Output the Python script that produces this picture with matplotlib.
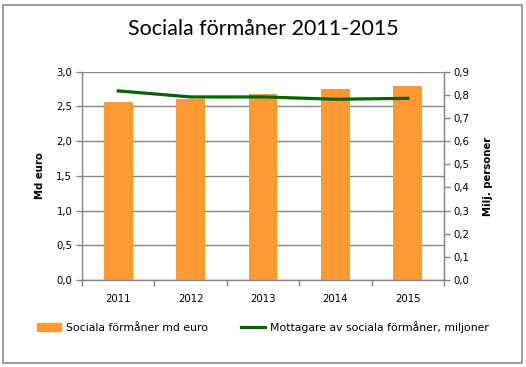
import matplotlib
matplotlib.use("Agg")
import matplotlib.pyplot as plt
from matplotlib.patches import Rectangle
from matplotlib.lines import Line2D
from matplotlib.ticker import FixedLocator, FuncFormatter

years = ["2011", "2012", "2013", "2014", "2015"]
benefits_bn_eur = [2.565, 2.60, 2.685, 2.75, 2.80]
recipients_mn = [0.817, 0.791, 0.791, 0.781, 0.785]
left_ticks = [0.0, 0.5, 1.0, 1.5, 2.0, 2.5, 3.0]
right_ticks = [0.0, 0.1, 0.2, 0.3, 0.4, 0.5, 0.6, 0.7, 0.8, 0.9]

W, H = 526, 367
fig = plt.figure(figsize=(W / 100, H / 100), dpi=100)
fig.patches.append(Rectangle((3 / W, 4 / H), 519 / W, 358 / H, transform=fig.transFigure,
                             fill=False, edgecolor="#8c8c8c", linewidth=1.2))

ax = fig.add_axes([82 / W, 87 / H, 362 / W, 208.3 / H])
ax.set_axisbelow(True)
x = list(range(len(years)))
orange = "#ff9933"
green = "#006600"
grey = "#868686"
ax.bar(x, benefits_bn_eur, width=0.4, color=orange, zorder=2)
ax.set_xlim(-0.5, len(years) - 0.5)
ax.set_ylim(0, 3.0)
ax.yaxis.set_major_locator(FixedLocator(left_ticks))
ax.yaxis.set_major_formatter(FuncFormatter(lambda v, p: f"{v:.1f}".replace(".", ",")))
ax.grid(axis="y", color=grey, linewidth=1.0, zorder=0)
ax.set_xticks(x)
ax.set_xticklabels(years)
ax.set_xticks([i + 0.5 for i in range(-1, len(years))], minor=True)
ax.tick_params(axis="x", which="major", length=0, pad=10, labelsize=7.3)
ax.tick_params(axis="x", which="minor", length=4, color=grey, width=1)
ax.tick_params(axis="y", length=4, color=grey, width=1, labelsize=7.3, pad=3)
ax.spines["top"].set_visible(False)
for s in ["left", "bottom", "right"]:
    ax.spines[s].set_color(grey)
    ax.spines[s].set_linewidth(1.0)
ax.set_ylabel("Md euro", fontsize=7.3, fontweight="bold")
ax.yaxis.set_label_coords(-0.102, 0.5)

ax2 = ax.twinx()
ax2.plot(x, recipients_mn, color=green, linewidth=2.3, zorder=3)
ax2.set_ylim(0, 0.9)
ax2.yaxis.set_major_locator(FixedLocator(right_ticks))
ax2.yaxis.set_major_formatter(FuncFormatter(lambda v, p: f"{v:.1f}".replace(".", ",")))
ax2.tick_params(axis="y", length=4, color=grey, width=1, labelsize=7.3, pad=3)
for s in ["top", "left", "bottom"]:
    ax2.spines[s].set_visible(False)
ax2.spines["right"].set_color(grey)
ax2.set_ylabel("Milj. personer", fontsize=7.3, fontweight="bold")
ax2.yaxis.set_label_coords(1.108, 0.5)

fig.text(0.5, 1 - 29 / H, "Sociala förmåner 2011-2015", ha="center", va="center",
         fontsize=15.4, family="Lato")

handles = [Rectangle((0, 0), 1, 1, color=orange),
           Line2D([0], [0], color=green, linewidth=2.3)]
labels = ["Sociala förmåner md euro", "Mottagare av sociala förmåner, miljoner"]
fig.legend(handles, labels, loc="center", bbox_to_anchor=(0.5, 1 - 327 / H), ncol=2,
           frameon=False, fontsize=7.8, handlelength=2.2, handleheight=0.7,
           columnspacing=3.0, handletextpad=0.5)

fig.savefig("out.png", dpi=100)
